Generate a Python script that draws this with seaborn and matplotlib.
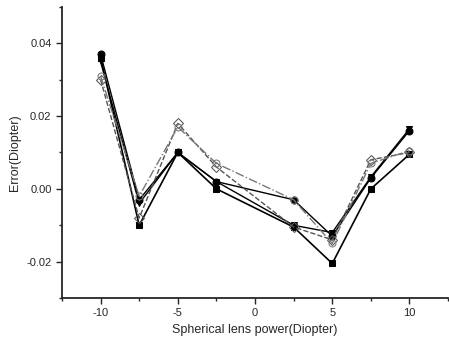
import numpy as np
import pandas as pd
import matplotlib
matplotlib.use('Agg')
import matplotlib.pyplot as plt
import seaborn as sns
from matplotlib.ticker import MultipleLocator

sns.set_style('ticks')
plt.rcParams['font.family'] = ['Liberation Sans', 'DejaVu Sans']

power = [-10, -7.5, -5, -2.5, 2.5, 5, 7.5, 10]
err_sq = [0.036, -0.010, 0.010, 0.000, -0.0105, -0.0205, 0.000, 0.0095]
err_ci = [0.037, -0.003, 0.010, 0.002, -0.003, -0.013, 0.003, 0.016]
err_tr = [0.035, -0.004, 0.010, 0.002, -0.010, -0.012, 0.0033, 0.0165]
err_di = [0.030, -0.008, 0.018, 0.006, -0.0105, -0.014, 0.008, 0.010]
err_st = [0.031, -0.002, 0.017, 0.007, -0.003, -0.015, 0.007, 0.0105]

fig = plt.figure(figsize=(4.49, 3.43), dpi=100)
ax = fig.add_axes([0.138, 0.131, 0.86, 0.849])

styles = [
    (err_sq, 's', '-', 'black', 'black', 1.2),
    (err_ci, 'o', '-', 'black', 'black', 1.0),
    (err_tr, 'v', '-', 'black', 'black', 1.0),
    (err_di, 'D', '--', '#555555', 'none', 1.0),
    (err_st, 'o', '-.', '#777777', 'none', 1.0),
]
for vals, mk, ls, col, fc, lw in styles:
    df = pd.DataFrame({'x': power, 'y': vals})
    sns.lineplot(data=df, x='x', y='y', ax=ax, marker=mk, linestyle=ls,
                 color=col, markerfacecolor=fc, markeredgecolor=col,
                 markersize=5, linewidth=lw)

ax.set_xlim(-12.5, 12.5)
ax.set_ylim(-0.03, 0.05)
ax.xaxis.set_major_locator(MultipleLocator(5))
ax.xaxis.set_minor_locator(MultipleLocator(2.5))
ax.yaxis.set_major_locator(MultipleLocator(0.02))
ax.yaxis.set_minor_locator(MultipleLocator(0.01))
ax.yaxis.set_major_formatter(matplotlib.ticker.FormatStrFormatter('%.2f'))
ax.xaxis.set_major_formatter(matplotlib.ticker.FuncFormatter(lambda v, p: '%d' % v))
ax.tick_params(which='major', length=4, width=1, labelsize=8)
ax.tick_params(which='minor', length=2.5, width=1)
sns.despine(ax=ax)
for s in ['left', 'bottom']:
    ax.spines[s].set_linewidth(1.3)

ax.set_xlabel('Spherical lens power(Diopter)', fontsize=9)
ax.set_ylabel('Error(Diopter)', fontsize=9)

fig.savefig('out.png', dpi=100)
